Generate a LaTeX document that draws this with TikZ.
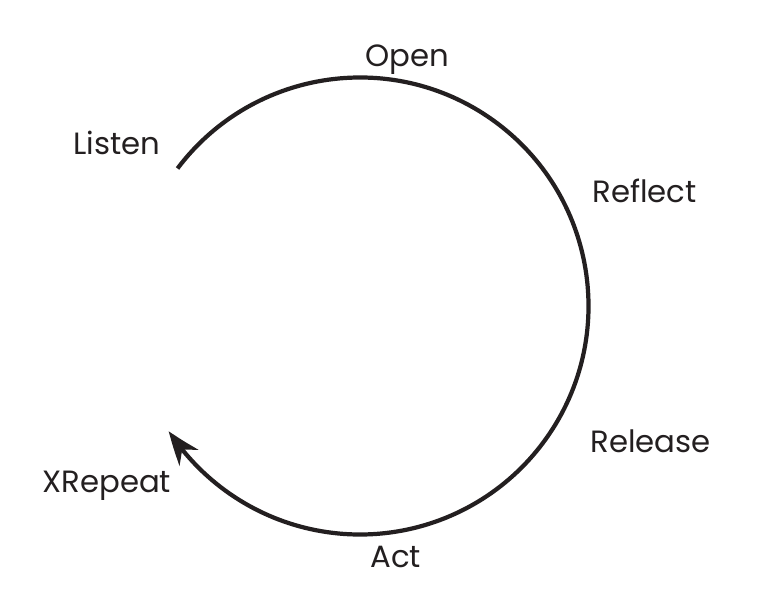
\documentclass[tikz,border=0pt]{standalone}
\usepackage{fontspec}
\setmainfont{Poppins}
\usetikzlibrary{arrows.meta,bending,calc}
\definecolor{ink}{HTML}{231F20}

\begin{document}
\begin{tikzpicture}[every node/.style={font=\fontsize{17.5pt}{20pt}\selectfont, text=ink, inner sep=0pt, anchor=base west}]
  \useasboundingbox (0,0) rectangle (15.32,12.2);

  \def\rad{4.57}
  \coordinate (O) at (7.20,6.08);
  \coordinate (S) at ($(O)+(143:\rad)$);

  % the cycle
  \draw[ink, line width=2.4pt, -{Stealth[length=19pt,width=14pt,inset=6pt,bend]}]
    (S) arc[start angle=143, end angle=-146.8, radius=\rad];

  \node (open)    at (7.30,10.86) {Open};
  \node (listen)  at (1.46,9.10)  {Listen};
  \node (reflect) at (11.84,8.14) {Reflect};
  \node (release) at (11.80,3.16) {Release};
  \node (act)     at (7.40,0.86)  {Act};
  \node (repeat)  at (0.84,2.36)  {XRepeat};
\end{tikzpicture}
\end{document}
